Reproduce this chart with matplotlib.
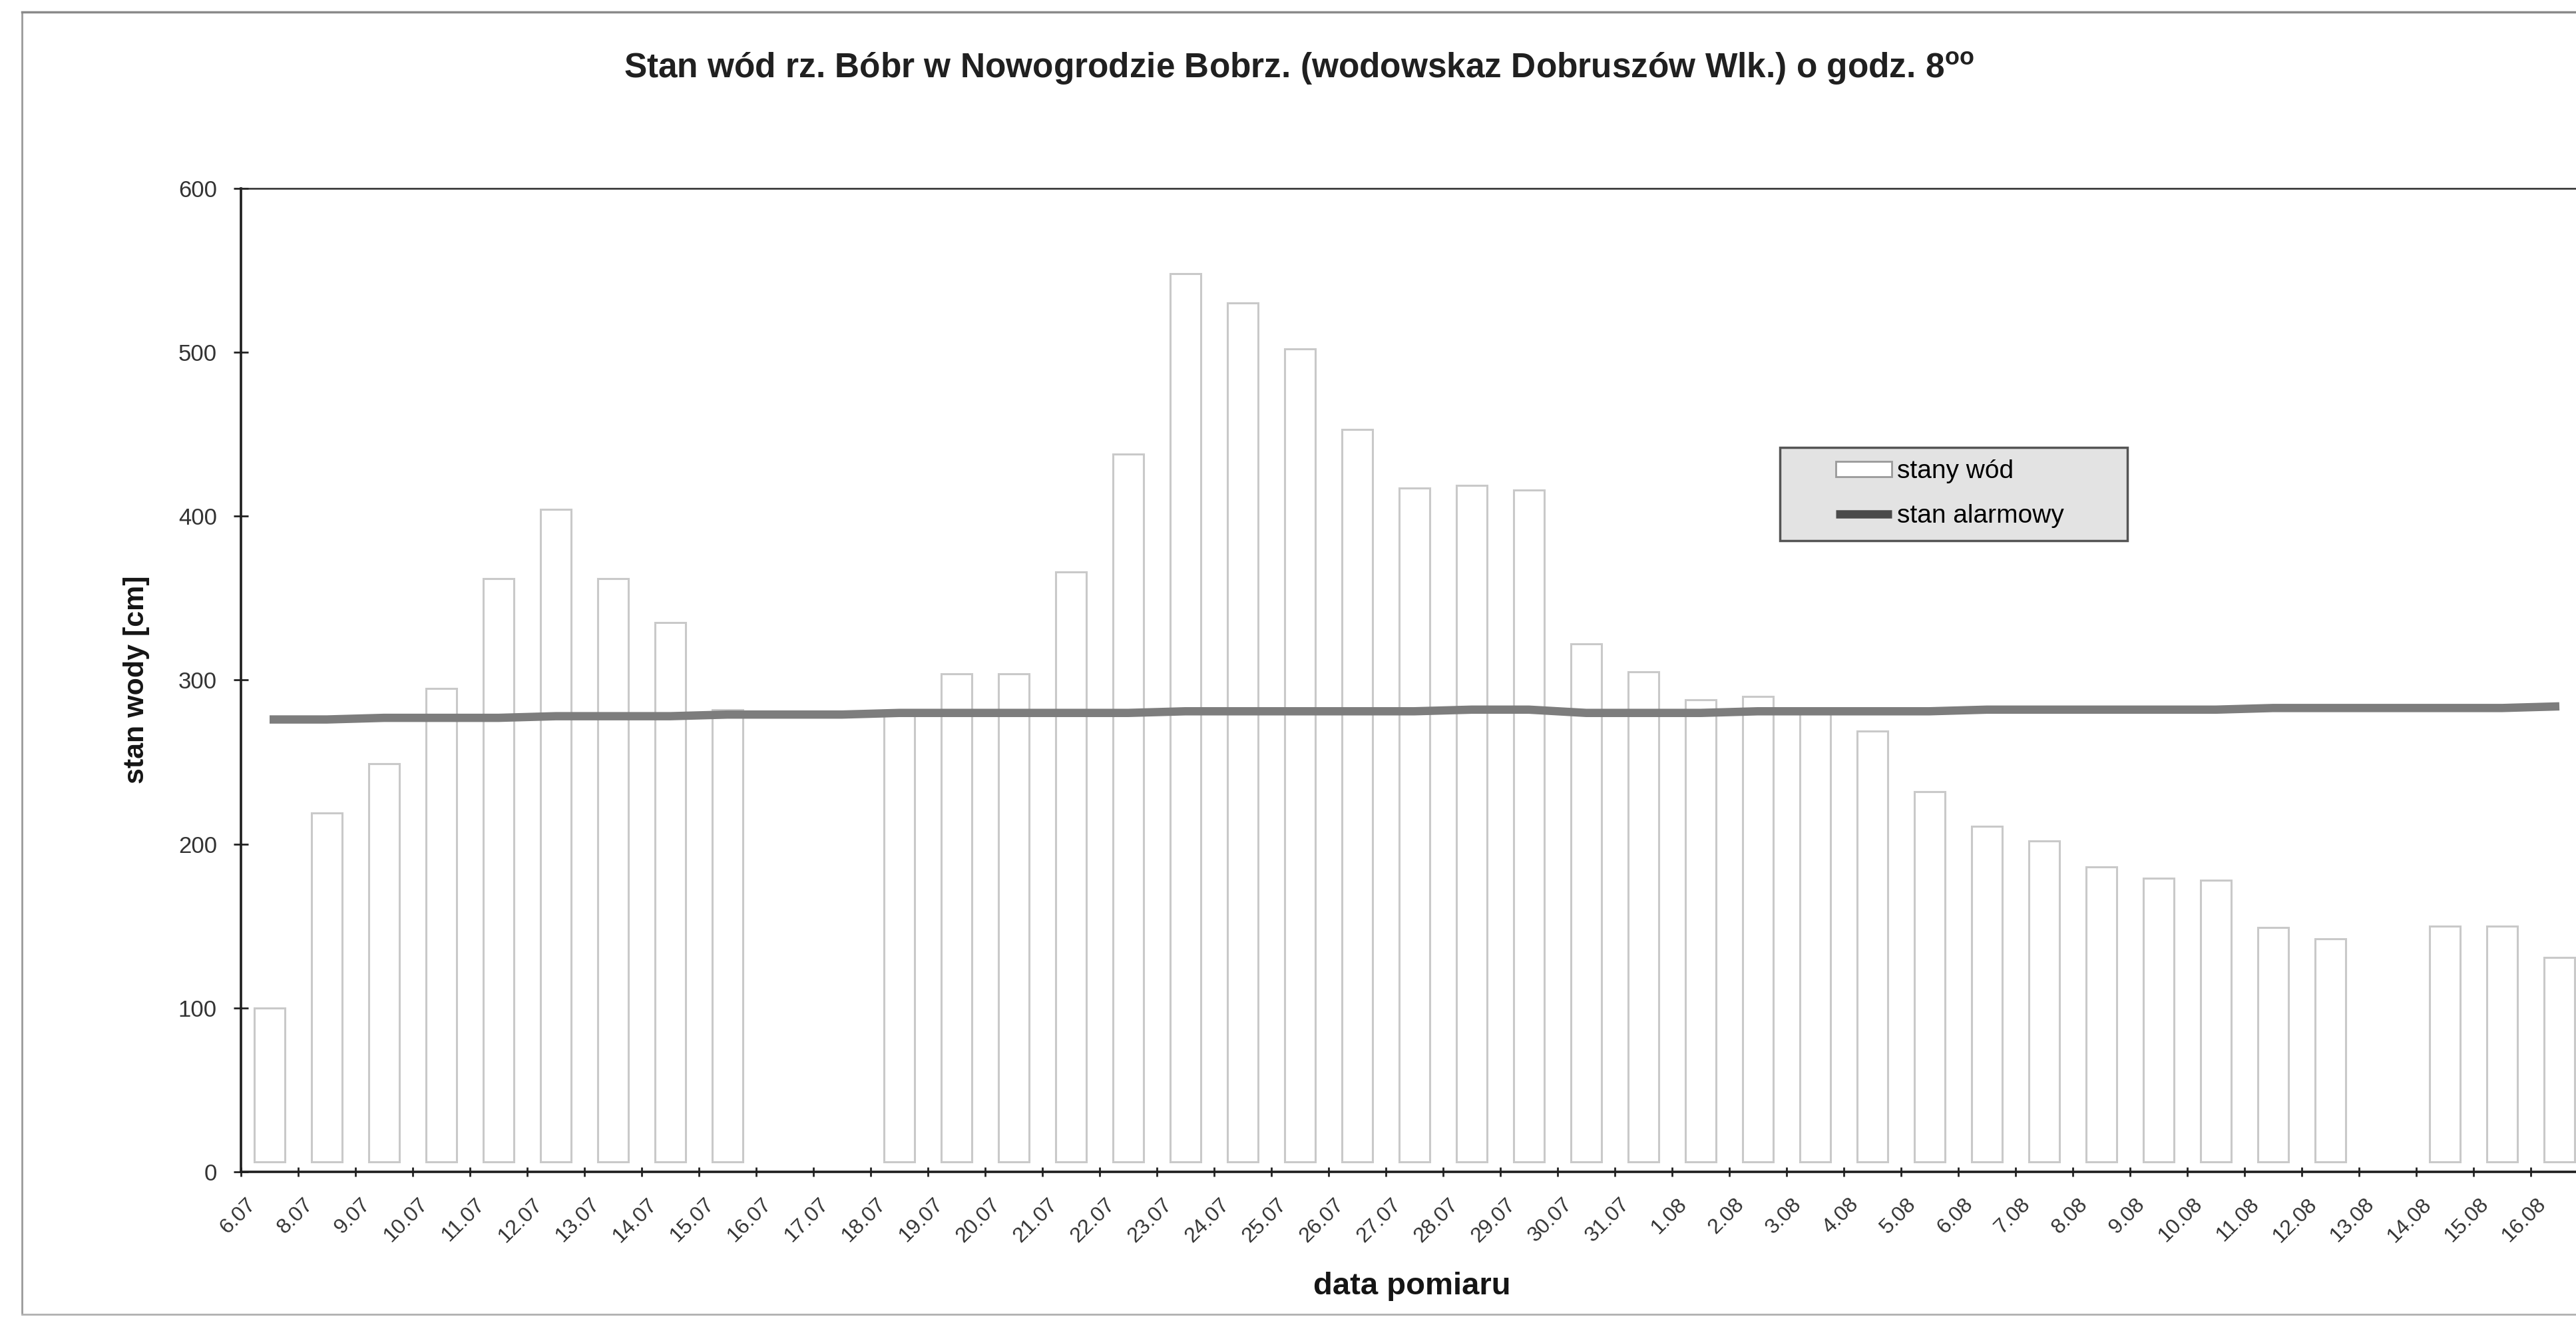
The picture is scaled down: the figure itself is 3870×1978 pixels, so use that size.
import matplotlib
matplotlib.use("Agg")
import matplotlib.pyplot as plt
import matplotlib.transforms as mtransforms
from matplotlib.patches import Rectangle, Patch
from matplotlib.lines import Line2D
import numpy as np

plt.rcParams['font.family'] = ['Liberation Sans', 'DejaVu Sans']

# data
dates = ['6.07', '8.07', '9.07', '10.07', '11.07', '12.07', '13.07', '14.07', '15.07',
         '16.07', '17.07', '18.07', '19.07', '20.07', '21.07', '22.07', '23.07', '24.07',
         '25.07', '26.07', '27.07', '28.07', '29.07', '30.07', '31.07', '1.08', '2.08',
         '3.08', '4.08', '5.08', '6.08', '7.08', '8.08', '9.08', '10.08', '11.08', '12.08',
         '13.08', '14.08', '15.08', '16.08']
stany_wod = [100, 219, 249, 295, 362, 404, 362, 335, 282,
             np.nan, np.nan, 281, 304, 304, 366, 438, 548, 530,
             502, 453, 417, 419, 416, 322, 305, 288, 290,
             282, 269, 232, 211, 202, 186, 179, 178, 149, 142,
             np.nan, 150, 150, 131]
stan_alarmowy = [276, 276, 277, 277, 277, 278, 278, 278, 279,
                 279, 279, 280, 280, 280, 280, 280, 281, 281,
                 281, 281, 281, 282, 282, 280, 280, 280, 281,
                 281, 281, 281, 282, 282, 282, 282, 282, 283, 283,
                 283, 283, 283, 284]

W, H = 3870, 1978
fig = plt.figure(figsize=(W / 100, H / 100), dpi=100)

# plot area (right edge runs a bit past the scan border)
ax = fig.add_axes([362 / W, (H - 1760) / H, 3526 / W, 1477 / H])

x = np.arange(len(dates))
vals = np.array(stany_wod, dtype=float)
ok = ~np.isnan(vals)
base = 6  # Excel bars float a bit above the axis
ax.bar(x[ok], vals[ok] - base, bottom=base, width=0.53, facecolor='white',
       edgecolor='#c9c9c9', linewidth=2.2, zorder=2)
ax.plot(x, stan_alarmowy, color='#7d7d7d', linewidth=9, solid_capstyle='butt', zorder=3)

ax.set_xlim(-0.5, len(dates) - 0.5)
ax.set_ylim(0, 600)
ax.set_yticks(range(0, 601, 100))

ax.set_xticks(x)
ax.set_xticklabels(dates, rotation=45, ha='right', va='center', rotation_mode='anchor',
                   fontsize=23, color='#333333')
ax.set_xticks(np.arange(-0.5, len(dates), 1.0), minor=True)
ax.tick_params(axis='x', which='major', length=0, pad=32)
ax.tick_params(axis='x', which='minor', direction='inout', length=10, width=2, color='#222')
ax.tick_params(axis='y', direction='inout', length=16, width=2, color='#222',
               labelsize=25, labelcolor='#333333', pad=18)
shift = mtransforms.ScaledTranslation(-0.25, 0, fig.dpi_scale_trans)
for lab in ax.get_xticklabels():
    lab.set_transform(lab.get_transform() + shift)

for s in ['left', 'bottom']:
    ax.spines[s].set_linewidth(2.6)
    ax.spines[s].set_color('#1e1e1e')
ax.spines['top'].set_linewidth(1.8)
ax.spines['top'].set_color('#2a2a2a')
ax.spines['right'].set_visible(False)

# texts
fig.text(1951 / W, 1 - 103 / H,
         'Stan wód rz. Bóbr w Nowogrodzie Bobrz. (wodowskaz Dobruszów Wlk.) o godz. 8$^{\\mathregular{oo}}$',
         ha='center', va='center', fontsize=37, fontweight='bold', color='#202020')
fig.text(205 / W, 1 - 1021 / H, 'stan wody [cm]', rotation=90, ha='center', va='center',
         fontsize=31, fontweight='bold', color='#151515')
fig.text(2121 / W, 1 - 1932 / H, 'data pomiaru', ha='center', va='center',
         fontsize=34, fontweight='bold', color='#151515')

# legend box
ax.add_patch(Rectangle((2674 / W, 1 - 812 / H), 522 / W, 140 / H,
                       transform=fig.transFigure, facecolor='#e3e3e3', clip_on=False,
                       edgecolor='#555555', linewidth=2.5, zorder=5))
handles = [Patch(facecolor='white', edgecolor='#9a9a9a', linewidth=2),
           Line2D([], [], color='#4a4a4a', linewidth=9, solid_capstyle='butt')]
leg = ax.legend(handles, ['stany wód', 'stan alarmowy'], loc='upper left',
                bbox_to_anchor=(2758 / W, 1 - 690 / H), bbox_transform=fig.transFigure,
                frameon=False, fontsize=28, handlelength=2.15, handleheight=0.55,
                handletextpad=0.22, labelspacing=0.8, borderpad=0, borderaxespad=0)
leg.set_zorder(6)

# outer frame of the scanned sheet
fig.add_artist(Line2D([33 / W, 33 / W], [1 - 1972 / H, 1 - 18 / H], transform=fig.transFigure,
                      color='#9a9a9a', linewidth=2))
fig.add_artist(Line2D([33 / W, 1], [1 - 18 / H, 1 - 18 / H], transform=fig.transFigure,
                      color='#8a8a8a', linewidth=2.5))
fig.add_artist(Line2D([33 / W, 1], [1 - 1974 / H, 1 - 1974 / H], transform=fig.transFigure,
                      color='#b0b0b0', linewidth=2))

fig.savefig('out.png', dpi=100)
